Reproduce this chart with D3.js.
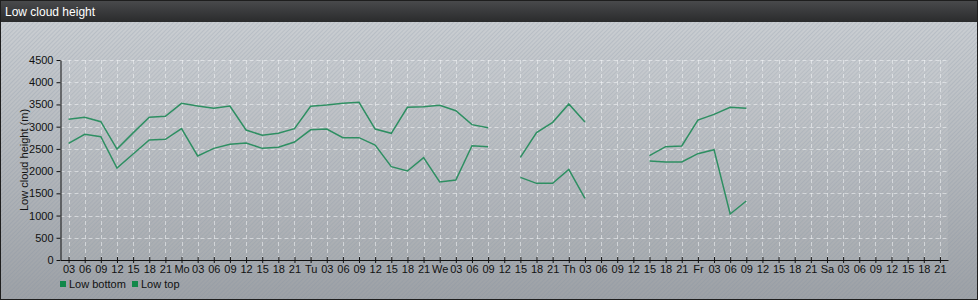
<!DOCTYPE html>
<html lang="en">
<head>
  <meta charset="UTF-8">
  <title>Low cloud height</title>
  <script src="https://d3js.org/d3.v7.min.js"></script>
  <style>
    body { margin: 0; font-family: Arial, "Liberation Sans", sans-serif; background: #fff; }
    #chart svg { display: block; }
  </style>
</head>
<body>
  <div id="chart"></div>

  <script>
    // forecast steps every 3 hours, first one at 03 on day 1
    const hours = d3.range(3, 166, 3);
    const dayLabels = ["Mo", "Tu", "We", "Th", "Fr", "Sa"];
    const hourLabels = ["03", "06", "09", "12", "15", "18", "21"];
    const yTicks = [0, 500, 1000, 1500, 2000, 2500, 3000, 3500, 4000, 4500];
    const seriesNames = ["Low bottom", "Low top"];

    const lowBottom = [2625, 2827, 2775, 2070, 2385, 2700, 2715, 2955, 2340, 2512,
                       2602, 2632, 2512, 2535, 2655, 2930, 2947, 2752, 2752, 2587,
                       2100, 2002, 2302, 1755, 1800, 2572, 2550, null, 1860, 1725,
                       1725, 2040, 1387, null, null, null, 2227, 2205, 2205, 2392,
                       2482, 1035, 1327, null, null, null, null, null, null, null,
                       null, null, null, null, null];
    const lowTop = [3166, 3210, 3112, 2497, 2860, 3210, 3232, 3525, 3465, 3412,
                    3465, 2925, 2805, 2850, 2955, 3460, 3487, 3525, 3547, 2947,
                    2850, 3435, 3450, 3480, 3360, 3045, 2977, null, 2310, 2865,
                    3097, 3510, 3105, null, null, null, 2347, 2550, 2565, 3150,
                    3277, 3435, 3412, null, null, null, null, null, null, null,
                    null, null, null, null, null];

    const W = 978, H = 300;
    const plot = {left: 60.5, right: 948, top: 60, bottom: 260};

    const svg = d3.select("#chart").append("svg")
                  .attr("width", W)
                  .attr("height", H);

    const defs = svg.append("defs");
    const bg = defs.append("linearGradient").attr("id", "bg")
                   .attr("x1", 0).attr("y1", 0).attr("x2", 0).attr("y2", 1);
    bg.append("stop").attr("offset", "0%").attr("stop-color", "#cdd1d5");
    bg.append("stop").attr("offset", "100%").attr("stop-color", "#9da1a6");

    const head = defs.append("linearGradient").attr("id", "head")
                     .attr("x1", 0).attr("y1", 0).attr("x2", 0).attr("y2", 1);
    head.append("stop").attr("offset", "0%").attr("stop-color", "#4a4b4d");
    head.append("stop").attr("offset", "100%").attr("stop-color", "#2a2b2c");

    const stripes = defs.append("pattern").attr("id", "stripes")
                        .attr("width", 3).attr("height", 3)
                        .attr("patternUnits", "userSpaceOnUse")
                        .attr("patternTransform", "rotate(45)");
    stripes.append("rect").attr("width", 1).attr("height", 3)
           .attr("fill", "#7d8ca0").attr("opacity", 0.22);

    // background + title bar
    svg.append("rect").attr("width", W).attr("height", H).attr("fill", "url(#bg)");
    svg.append("rect").attr("width", W).attr("height", H).attr("fill", "url(#stripes)");
    svg.append("rect").attr("width", W).attr("height", 22).attr("fill", "url(#head)");
    svg.append("text")
       .attr("x", 5).attr("y", 15.5)
       .attr("fill", "#fff")
       .style("font-size", "12px")
       .text("Low cloud height");
    svg.append("rect").attr("x", 0.5).attr("y", 0.5)
       .attr("width", W - 1).attr("height", H - 1)
       .attr("fill", "none").attr("stroke", "#1e1e1e");

    const x = d3.scaleLinear().domain([1.5, 166.5]).range([plot.left, plot.right]);
    const y = d3.scaleLinear().domain([0, 4500]).range([plot.bottom, plot.top]);

    svg.append("rect")
       .attr("x", plot.left).attr("y", plot.top)
       .attr("width", plot.right - plot.left).attr("height", plot.bottom - plot.top)
       .attr("fill", "#fff").attr("opacity", 0.06);

    // dashed grid
    const grid = svg.append("g").attr("stroke", "#f4f6f8").attr("stroke-opacity", 0.55)
                    .attr("stroke-dasharray", "4,3");
    grid.selectAll(".vg").data(hours).enter().append("line")
        .attr("x1", d => Math.round(x(d)) + 0.5).attr("x2", d => Math.round(x(d)) + 0.5)
        .attr("y1", plot.top).attr("y2", plot.bottom);
    grid.selectAll(".hg").data(yTicks.slice(1)).enter().append("line")
        .attr("x1", plot.left).attr("x2", plot.right)
        .attr("y1", d => Math.round(y(d)) + 0.5).attr("y2", d => Math.round(y(d)) + 0.5);

    const tickLabel = h => h % 24 === 0 ? dayLabels[h / 24 - 1] : hourLabels[(h % 24) / 3 - 1];

    const xAxis = svg.append("g")
        .attr("transform", `translate(0,${plot.bottom})`)
        .call(d3.axisBottom(x).tickValues(hours).tickFormat(tickLabel).tickSize(3).tickSizeOuter(0));
    xAxis.selectAll(".tick line").attr("y1", -3);
    xAxis.selectAll("text").attr("y", 5).style("font-size", "11px").attr("fill", "#111");

    const yAxis = svg.append("g")
        .attr("transform", `translate(${plot.left},0)`)
        .call(d3.axisLeft(y).tickValues(yTicks).tickFormat(d3.format("d")).tickSize(4).tickSizeOuter(0));
    yAxis.selectAll("text").style("font-size", "11px").attr("fill", "#111");

    svg.selectAll(".domain").attr("stroke", "#111");
    svg.selectAll(".tick line").attr("stroke", "#111");
    svg.selectAll(".tick text").style("font-family", "Arial, 'Liberation Sans', sans-serif");

    svg.append("text")
       .attr("transform", `translate(28,${(plot.top + plot.bottom) / 2}) rotate(-90)`)
       .attr("text-anchor", "middle")
       .attr("fill", "#111")
       .style("font-size", "11px")
       .text("Low cloud height (m)");

    // lines, broken where the forecast has no value
    const line = d3.line()
        .defined(d => d[1] != null)
        .x(d => x(d[0]))
        .y(d => y(d[1]));

    [lowBottom, lowTop].forEach(vals => {
      svg.append("path")
         .datum(hours.map((h, i) => [h, vals[i]]))
         .attr("fill", "none")
         .attr("stroke", "#2e8f62")
         .attr("stroke-width", 1.5)
         .attr("d", line);
    });

    // legend
    const legend = svg.append("g").attr("transform", "translate(60,280)");
    const legX = [0, 72];
    seriesNames.forEach((name, i) => {
      legend.append("rect").attr("x", legX[i]).attr("y", 1)
            .attr("width", 6).attr("height", 6).attr("fill", "#12884a");
      legend.append("text").attr("x", legX[i] + 9).attr("y", 7.5)
            .attr("fill", "#111").style("font-size", "11px").text(name);
    });
  </script>
</body>
</html>
